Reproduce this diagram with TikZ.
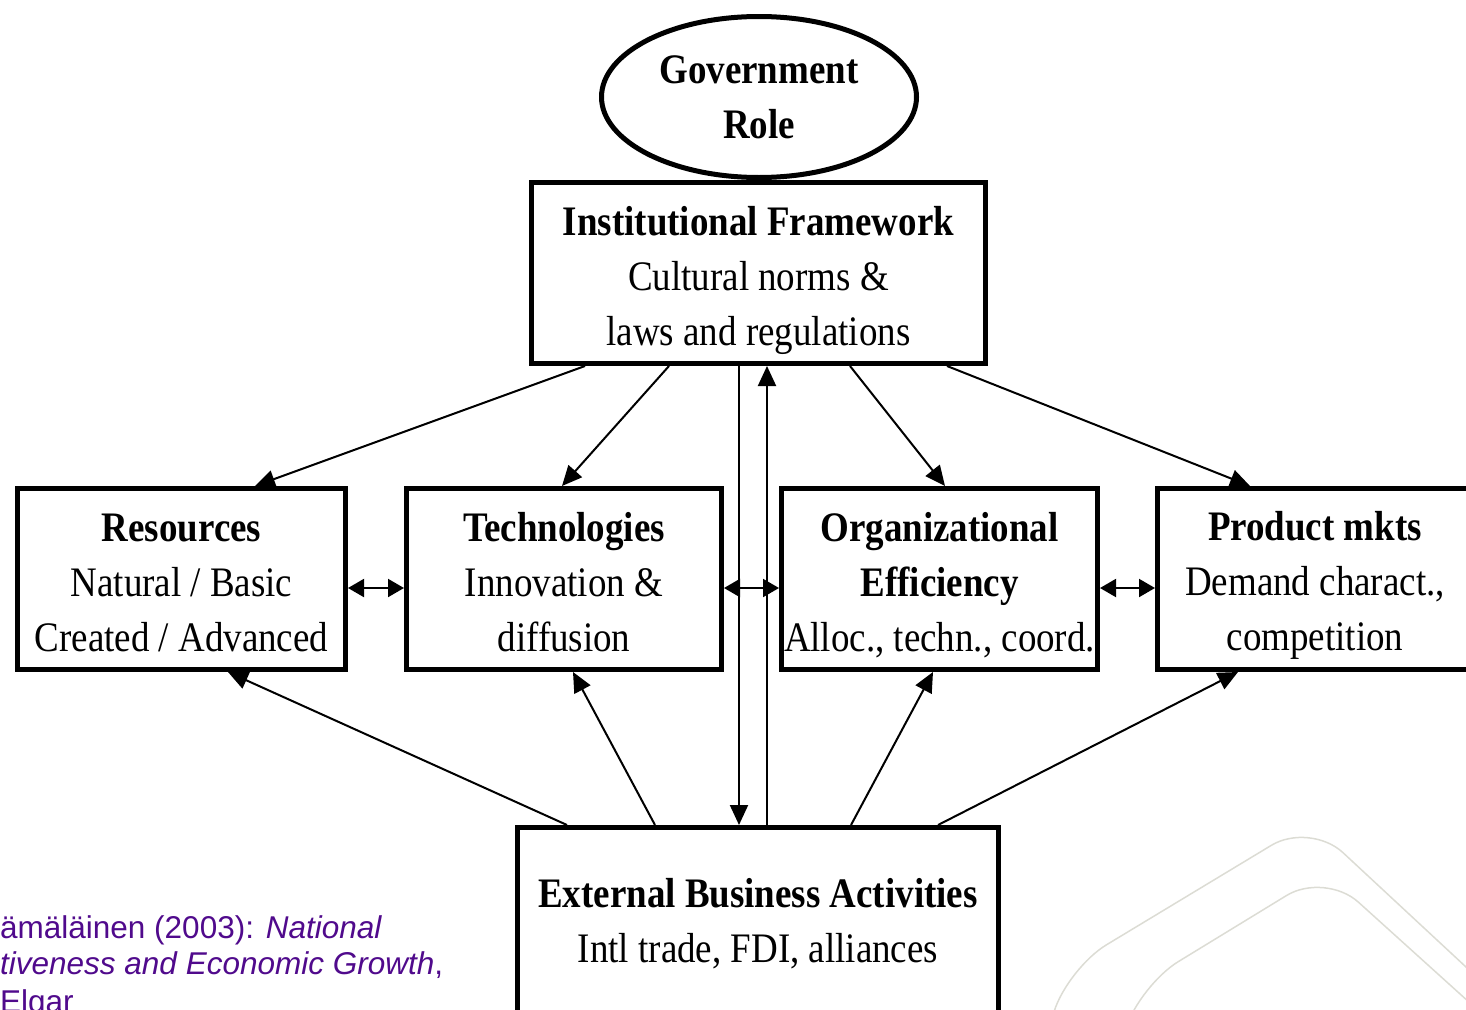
\documentclass[tikz,border=0pt]{standalone}
\usepackage{fontspec}
\setmainfont[FakeStretch=0.88]{Liberation Serif}
\newfontfamily\citefont{Liberation Sans}
\usetikzlibrary{arrows.meta,shapes.geometric}
\definecolor{citecol}{RGB}{80,10,140}
\definecolor{decocol}{RGB}{220,220,212}
\newcommand\tstrut{\rule[-6pt]{0pt}{40pt}}
\newcommand\topstrut[1]{\rule{0pt}{#1}}
\begin{document}
\begin{tikzpicture}[x=1pt,y=-1pt,
 box/.style={draw, line width=5pt, rectangle, inner sep=0pt, align=center, font=\fontsize{42}{55}\selectfont},
 conn/.style={line width=2pt, -{Triangle[length=20pt,width=18pt]}},
 dbl/.style={line width=2pt, {Triangle[length=16pt,width=18pt]}-{Triangle[length=16pt,width=18pt]}},
 deco/.style={draw=decocol, line width=1.5pt, rounded corners=45pt},
 cite/.style={anchor=base west, inner sep=0pt, text=citecol, font=\citefont\fontsize{31.5}{36}\selectfont}]
\useasboundingbox (0,0) rectangle (1466,1009);
\clip (0,0) rectangle (1466,1009);

% faint background decoration
\draw[deco] (1045,1040) -- (1068,968) -- (1310,822) -- (1480,980);
\draw[deco] (1122,1040) -- (1140,985) -- (1325,872) -- (1480,1012);

% nodes
\node[box, ellipse, minimum width=315pt, minimum height=161pt] (gov) at (759,97) {\tstrut\textbf{Government}\\\textbf{Role}\tstrut};
\node[box, minimum width=454pt, minimum height=181pt] (inst) at (758.5,273) {\topstrut{45pt}\textbf{Institutional Framework}\\Cultural norms \&\\laws and regulations\tstrut};
\node[box, minimum width=328pt, minimum height=181pt] (res) at (181.5,579) {\topstrut{41pt}\textbf{Resources}\\Natural / Basic\\Created / Advanced\tstrut};
\node[box, minimum width=315pt, minimum height=181pt] (tech) at (564,579) {\topstrut{41pt}\textbf{Technologies}\\Innovation \&\\diffusion\tstrut};
\node[box, minimum width=316pt, minimum height=181pt] (org) at (939.5,579) {\topstrut{41pt}\textbf{Organizational}\\\textbf{Efficiency}\\Alloc., techn., coord.\tstrut};
\node[box, minimum width=315pt, minimum height=181pt] (prod) at (1315,579) {\topstrut{42pt}\textbf{Product mkts}\\Demand charact.,\\competition\tstrut};
\node[box, minimum width=481pt, minimum height=187pt] (ext) at (758,921) {\tstrut\textbf{External Business Activities}\\Intl trade, FDI, alliances\tstrut};

% connectors from institutional framework
\draw[conn] ([xshift=-173.5pt]inst.south) -- ([xshift=73.5pt]res.north);
\draw[conn] ([xshift=-89.5pt]inst.south) -- ([xshift=-2pt]tech.north);
\draw[conn] ([xshift=91.5pt]inst.south) -- ([xshift=5.5pt]org.north);
\draw[conn] ([xshift=188.5pt]inst.south) -- ([xshift=-65pt]prod.north);

% vertical links
\draw[conn] ([xshift=-19.5pt]inst.south) -- ([xshift=-19pt]ext.north);
\draw[conn] ([xshift=9pt]ext.north) -- ([xshift=8.5pt]inst.south);

% connectors from external business activities
\draw[conn] ([xshift=-191pt]ext.north) -- ([xshift=46.5pt]res.south);
\draw[conn] ([xshift=-103pt]ext.north) -- ([xshift=9pt]tech.south);
\draw[conn] ([xshift=93pt]ext.north) -- ([xshift=-6.5pt]org.south);
\draw[conn] ([xshift=180pt]ext.north) -- ([xshift=-77pt]prod.south);

% double arrows
\draw[dbl] ([yshift=-9pt]res.east) -- ([yshift=-9pt]tech.west);
\draw[dbl] ([yshift=-9pt]tech.east) -- ([yshift=-9pt]org.west);
\draw[dbl] ([yshift=-9pt]org.east) -- ([yshift=-9pt]prod.west);

% citation
\node[cite] (c1) at (0,938) {ämäläinen (2003): \textit{National}};
\node[cite] (c2) at (0,974) {\textit{tiveness and Economic Growth},};
\node[cite] (c3) at (0,1012) {Elgar};
\end{tikzpicture}
\end{document}
